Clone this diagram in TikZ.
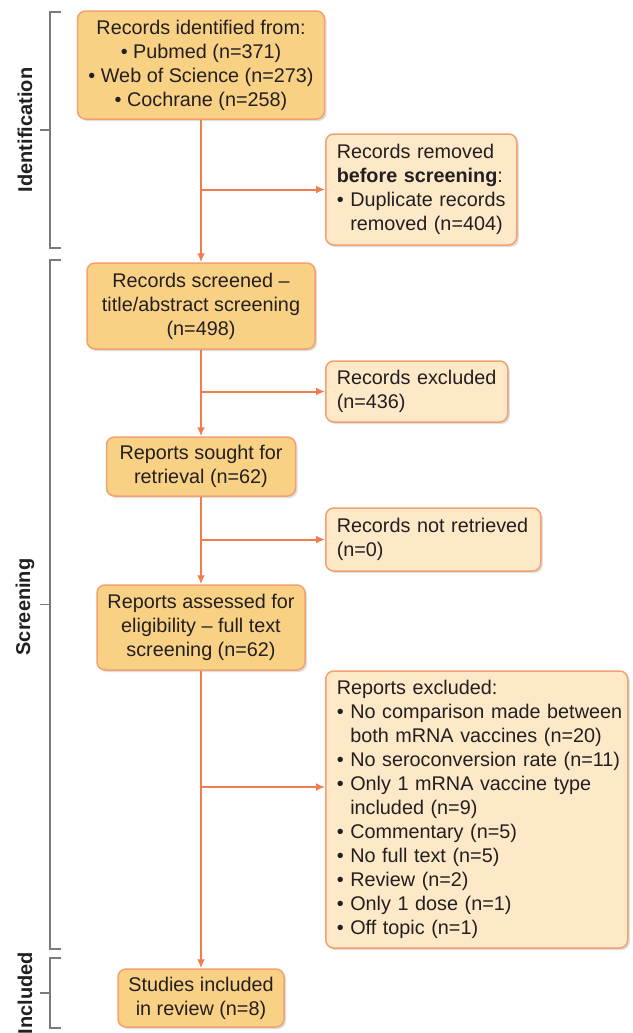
\documentclass[tikz,border=0pt]{standalone}
\usepackage{fontspec}
\setmainfont{Liberation Sans}
\usepackage{tikz}
\usetikzlibrary{arrows.meta,shadows,positioning,calc}

\definecolor{boxdark}{HTML}{F9D185}
\definecolor{boxlight}{HTML}{FDE8C7}
\definecolor{boxline}{HTML}{F2A170}
\definecolor{flowline}{HTML}{EE7D4F}
\definecolor{bracketgray}{HTML}{7A7A7A}
\definecolor{txt}{HTML}{231F20}

\newcommand{\bul}{\textbullet\ }
\newcommand{\bulind}{\phantom{\textbullet\ }}
\newcommand{\sidelines}[1]{\begin{tabular}{@{}l@{}}#1\end{tabular}}

\begin{document}
\begin{tikzpicture}[x=0.5pt,y=-0.5pt,
  font=\fontsize{9.9}{12}\selectfont, text=txt,
  mainbox/.style={draw=boxline, line width=0.75pt, fill=boxdark, rounded corners=4pt,
    align=center, inner sep=2pt,
    drop shadow={shadow xshift=1pt, shadow yshift=-1pt, opacity=0.25}},
  sidebox/.style={mainbox, fill=boxlight, anchor=west, align=left, inner xsep=5.5pt},
  flow/.style={draw=flowline, line width=1pt, -{Latex[length=4.5pt,width=4pt]}},
  bracket/.style={draw=bracketgray, line width=0.7pt},
  phase/.style={rotate=90, font=\fontsize{10}{12}\selectfont\bfseries}
]
  \useasboundingbox (0,0) rectangle (632,1033);

  % main column
  \node[mainbox, minimum width=123.5pt, minimum height=54pt] (recId) at (201,65)
    {Records identified from:\\ \bul Pubmed (n=371)\\ \bul Web of Science (n=273)\\ \bul Cochrane (n=258)};
  \node[mainbox, minimum width=114pt, minimum height=43pt] (recScr) at (201,306)
    {Records screened –\\ title/abstract screening\\ (n=498)};
  \node[mainbox, minimum width=94.5pt, minimum height=29.5pt] (repSought) at (201,466.5)
    {Reports sought for\\ retrieval (n=62)};
  \node[mainbox, minimum width=104pt, minimum height=42.5pt] (repAss) at (201,627.5)
    {Reports assessed for\\ eligibility – full text\\ screening (n=62)};
  \node[mainbox, minimum width=83pt, minimum height=29pt] (studInc) at (201,998)
    {Studies included\\ in review (n=8)};

  % side boxes
  \node[sidebox, minimum height=55.5pt, text width=84.5pt] (recRem) at (325,189.5)
    {\sidelines{Records removed\\ \textbf{before screening}:\\ \bul Duplicate records\\ \bulind removed (n=404)}};
  \node[sidebox, minimum height=30.5pt, text width=80pt] (recExc) at (325,391.5)
    {\sidelines{Records excluded\\ (n=436)}};
  \node[sidebox, minimum height=31.5pt, text width=96.5pt] (recNotRet) at (325,539.5)
    {\sidelines{Records not retrieved\\ (n=0)}};
  \node[sidebox, minimum height=138.5pt, text width=140pt] (repExc) at (325,809.5)
    {\sidelines{Reports excluded:\\
     \bul No comparison made between\\ \bulind both mRNA vaccines (n=20)\\
     \bul No seroconversion rate (n=11)\\
     \bul Only 1 mRNA vaccine type\\ \bulind included (n=9)\\
     \bul Commentary (n=5)\\
     \bul No full text (n=5)\\
     \bul Review (n=2)\\
     \bul Only 1 dose (n=1)\\
     \bul Off topic (n=1)}};

  % arrows
  \draw[flow] (recId) -- (recScr);
  \draw[flow] (recScr) -- (repSought);
  \draw[flow] (repSought) -- (repAss);
  \draw[flow] (repAss) -- (studInc);

  \draw[flow] (recId |- recRem) -- (recRem);
  \draw[flow] (recScr |- recExc) -- (recExc);
  \draw[flow] (repSought |- recNotRet) -- (recNotRet);
  \coordinate (exBranch) at (201,787);
  \draw[flow] (exBranch) -- (exBranch -| repExc.west);

  % phase brackets
  \draw[bracket] (61,12) -- (50,12) -- (50,248) -- (61,248);
  \draw[bracket] (50,130) -- (40,130);
  \node[phase] (idLab) at (25,130) {Identification};

  \draw[bracket] (61,260) -- (50,260) -- (50,949) -- (61,949);
  \draw[bracket] (50,604.5) -- (40,604.5);
  \node[phase] (scrLab) at (25,607) {Screening};

  \draw[bracket] (61,958) -- (50,958) -- (50,1028) -- (61,1028);
  \draw[bracket] (50,993) -- (40,993);
  \node[phase] (incLab) at (25,993) {Included};
\end{tikzpicture}
\end{document}
